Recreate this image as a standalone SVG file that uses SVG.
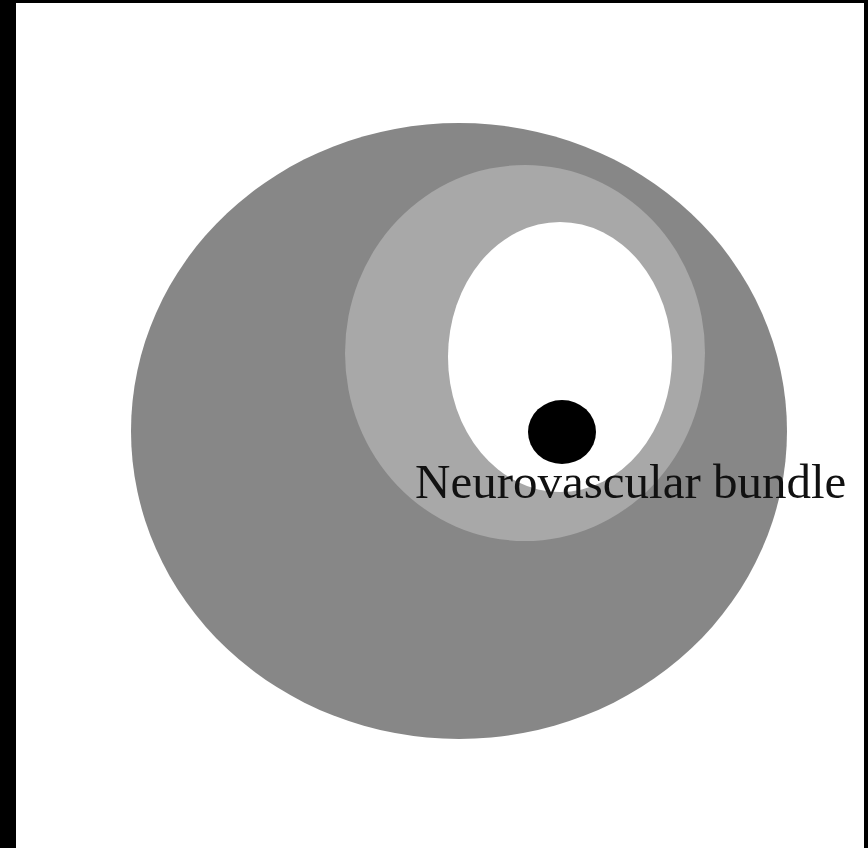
<svg xmlns="http://www.w3.org/2000/svg" width="868" height="848" viewBox="0 0 868 848">
<style>
.lbl{font-family:"Liberation Serif","Times New Roman",serif;font-size:49px;fill:#111}
</style>
<rect x="0" y="0" width="868" height="848" fill="#000"/>
<rect x="16" y="3" width="848" height="845" fill="#fff"/>
<g id="outer"><ellipse cx="459" cy="431" rx="328" ry="308" fill="#878787"/></g>
<g id="middle"><ellipse cx="525" cy="353" rx="180" ry="188" fill="#a8a8a8"/></g>
<g id="inner"><ellipse cx="560" cy="357" rx="112" ry="135" fill="#fff"/></g>
<g id="bundle"><ellipse cx="562" cy="432" rx="34" ry="32" fill="#000"/></g>
<g id="label"><text class="lbl" x="415" y="498">Neurovascular bundle</text></g>
<g id="connectors"/>
</svg>
